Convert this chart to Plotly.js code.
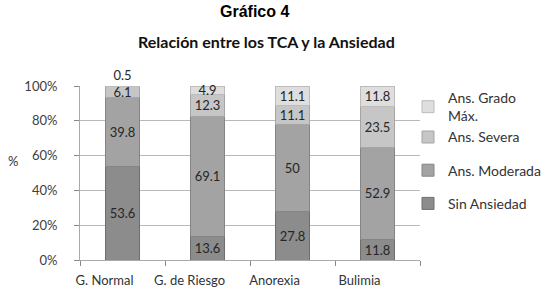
<!DOCTYPE html>
<html>
<head>
<meta charset="utf-8">
<script src="https://cdn.plot.ly/plotly-3.0.1.min.js"></script>
<style>html,body{margin:0;padding:0;background:#fff;}#chart{width:545px;height:297px;}</style>
</head>
<body>
<div id="chart"></div>
<script>
const categories = ['G. Normal', 'G. de Riesgo', 'Anorexia', 'Bulimia'];
const sinAnsiedad = [53.6, 13.6, 27.8, 11.8];
const ansModerada = [39.8, 69.1, 50, 52.9];
const ansSevera = [6.1, 12.3, 11.1, 23.5];
const ansGradoMax = [0.5, 4.9, 11.1, 11.8];
const seriesNames = ['Sin Ansiedad', 'Ans. Moderada', 'Ans. Severa', 'Ans. Grado<br>Máx.'];
const yTicks = [0, 20, 40, 60, 80, 100];

const colors = ['#8c8c8c', '#a3a3a3', '#c6c6c6', '#dedede'];
const lineColors = ['#6e6e6e', '#858585', '#a5a5a5', '#bcbcbc'];
const allSeries = [sinAnsiedad, ansModerada, ansSevera, ansGradoMax];
const groups = ['gSin', 'gMod', 'gTop', 'gTop'];

const traces = allSeries.map((vals, i) => ({
  type: 'bar',
  name: seriesNames[i],
  x: categories,
  y: vals,
  legendgroup: groups[i],
  legendrank: 10 - i,
  text: vals.map(v => String(v)),
  textposition: (i === 3) ? vals.map(v => v < 2 ? 'outside' : 'inside') : 'inside',
  insidetextanchor: 'middle',
  constraintext: 'none',
  cliponaxis: false,
  textfont: {family: 'Lato, sans-serif', size: 13, color: '#262626'},
  marker: {color: colors[i], line: {color: lineColors[i], width: 1}},
  width: 0.41,
  hoverinfo: 'skip'
}));

const M = {l: 80, r: 125, t: 86, b: 37};
const plotW = 545 - M.l - M.r;
const plotH = 297 - M.t - M.b;
const px = v => (v - M.l) / plotW;
const py = v => 1 - (v - M.t) / plotH;

const layout = {
  width: 545, height: 297,
  margin: {l: M.l, r: M.r, t: M.t, b: M.b, autoexpand: false},
  paper_bgcolor: '#ffffff',
  plot_bgcolor: '#ffffff',
  barmode: 'stack',
  showlegend: true,
  legend: {
    x: px(408), xanchor: 'left', y: py(82), yanchor: 'top',
    traceorder: 'grouped',
    tracegroupgap: 12,
    bgcolor: 'rgba(0,0,0,0)',
    font: {family: 'Lato, sans-serif', size: 14, color: '#333'},
    itemwidth: 30
  },
  xaxis: {
    type: 'category',
    tickson: 'boundaries',
    tickangle: 0,
    ticks: 'outside', ticklen: 5, tickcolor: '#888',
    showline: true, linecolor: '#aaa',
    tickfont: {family: 'Lato, sans-serif', size: 13, color: '#333'},
    ticklabelstandoff: 8,
    ticklabelshift: -18
  },
  yaxis: {
    range: [0, 100],
    tickvals: yTicks,
    ticktext: yTicks.map(v => v + '%'),
    ticks: 'outside', ticklen: 5, tickcolor: '#888',
    showline: true, linecolor: '#aaa',
    showgrid: true, gridcolor: '#b8b8b8', gridwidth: 1,
    ticklabelstandoff: 14,
    tickfont: {family: 'Lato, sans-serif', size: 13, color: '#404040'}
  },
  annotations: [
    {text: '<b>Gráfico 4</b>', xref: 'paper', yref: 'paper', x: px(255), y: py(11), xanchor: 'center', yanchor: 'middle',
     showarrow: false, font: {family: 'Liberation Sans, Arial, sans-serif', size: 16, color: '#000'}},
    {text: '<b>Relación entre los TCA y la Ansiedad</b>', xref: 'paper', yref: 'paper', x: px(266), y: py(41), xanchor: 'center', yanchor: 'middle',
     showarrow: false, font: {family: 'Lato, sans-serif', size: 16, color: '#111'}},
    {text: '%', xref: 'paper', yref: 'paper', x: px(13), y: py(161), xanchor: 'center', yanchor: 'middle',
     showarrow: false, font: {family: 'Lato, sans-serif', size: 13, color: '#333'}}
  ]
};

Plotly.newPlot('chart', traces, layout, {displayModeBar: false, staticPlot: true});
</script>
</body>
</html>
